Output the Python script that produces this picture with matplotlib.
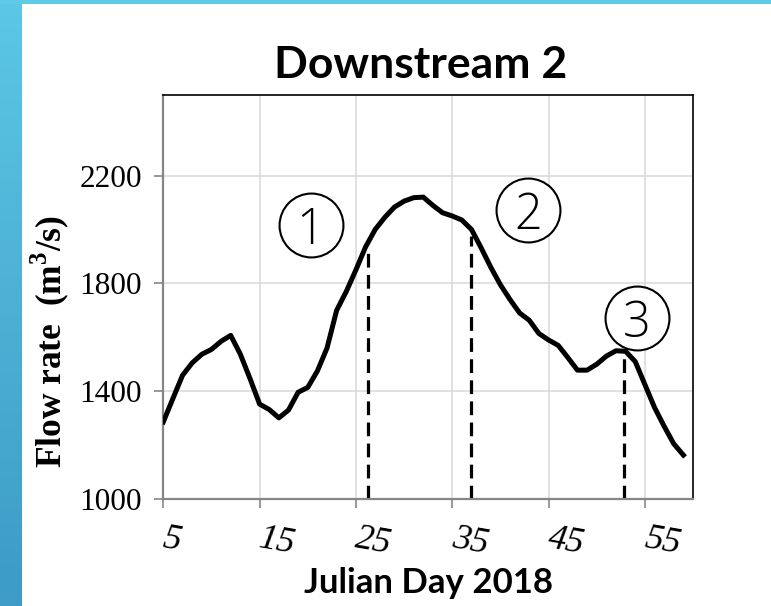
import numpy as np
import matplotlib

matplotlib.use("Agg")
import matplotlib.pyplot as plt  # noqa: E402
from matplotlib.colors import LinearSegmentedColormap  # noqa: E402

# daily flow at the Downstream 2 station
days = list(range(5, 60))
flow = [
    1286, 1373, 1459, 1505, 1537, 1555, 1585, 1607, 1537, 1447,
    1352, 1332, 1301, 1330, 1396, 1414, 1475, 1560, 1700, 1770,
    1850, 1935, 2000, 2045, 2083, 2105, 2118, 2120, 2089, 2062,
    2050, 2035, 2000, 1932, 1860, 1795, 1740, 1690, 1663, 1614,
    1590, 1570, 1525, 1478, 1478, 1500, 1530, 1550, 1548, 1510,
    1425, 1340, 1270, 1205, 1163,
]

# dashed markers splitting the hydrograph into periods
split_days = [26.3, 36.9, 52.8]
split_tops = [1922, 1975, 1548]

# circled period numbers
period_labels = ["1", "2", "3"]
period_x = [20.3, 42.9, 54.2]
period_y = [2017, 2073, 1670]

x_ticks = [5, 15, 25, 35, 45, 55]
y_ticks = [1000, 1400, 1800, 2200]

plt.rcParams["mathtext.fontset"] = "custom"
plt.rcParams["mathtext.bf"] = "Liberation Serif:bold"
plt.rcParams["mathtext.rm"] = "Liberation Serif"

W, H = 771, 606
fig = plt.figure(figsize=(W / 100, H / 100), dpi=100)
fig.patch.set_facecolor("white")

# slide decoration: blue bar on the left and a thin one across the top
bar = fig.add_axes([0, 0, 22 / W, 1])
grad = LinearSegmentedColormap.from_list("bar", ["#5cc7e6", "#3d9bc5"])
bar.imshow(np.linspace(0, 1, 256)[:, None], aspect="auto", cmap=grad,
           extent=[0, 1, 1, 0])
bar.set_axis_off()
top = fig.add_axes([0, 1 - 4 / H, 1, 4 / H])
top.set_facecolor("#5fcbe8")
top.set_xticks([])
top.set_yticks([])
for s in top.spines.values():
    s.set_visible(False)

left, right, ytop, ybot = 163.3, 693, 94.7, 499
ax = fig.add_axes([left / W, 1 - ybot / H, (right - left) / W, (ybot - ytop) / H])

ax.plot(days, flow, color="black", lw=3.6, solid_joinstyle="round", zorder=3)
ax.vlines(split_days, 1000, split_tops, colors="black", lw=2.3,
          linestyles=(0, (4.3, 2.3)), zorder=2)

for lab, px, py in zip(period_labels, period_x, period_y):
    ax.plot(px, py, marker="o", ms=46, mfc="white", mec="black", mew=1.5,
            zorder=2.5, clip_on=False)
    ax.text(px, py, lab, ha="center", va="center_baseline", fontsize=35,
            family="Open Sans", fontweight="light", zorder=5)

ax.set_xlim(5, 60)
ax.set_ylim(1000, 2500)
ax.set_xticks(x_ticks)
ax.set_yticks(y_ticks)
ax.grid(color="#d9d9d9", lw=1.1, zorder=0)
ax.set_axisbelow(True)

ax.set_xticklabels([str(v) for v in x_ticks], fontsize=26,
                   family="Liberation Serif", style="italic",
                   rotation=-10, rotation_mode="anchor", ha="left", va="center")
ax.set_yticklabels([str(v) for v in y_ticks], fontsize=22.5,
                   family="Liberation Serif")
ax.tick_params(axis="both", direction="out", length=6.5, width=1.2,
               color="#868686")
ax.tick_params(axis="x", pad=22)
ax.tick_params(axis="y", pad=9)

for side in ("left", "bottom"):
    ax.spines[side].set_color("#868686")
    ax.spines[side].set_linewidth(1.6)
for side in ("top", "right"):
    ax.spines[side].set_color("black")
    ax.spines[side].set_linewidth(1.2)

fig.text(421 / W, 1 - 78 / H, "Downstream 2", ha="center", va="baseline",
         fontsize=32, fontweight="bold", family="Lato")
fig.text(428 / W, 1 - 593 / H, "Julian Day 2018", ha="center", va="baseline",
         fontsize=25, fontweight="bold", family="Lato")
fig.text(50 / W, 1 - 342 / H, r"Flow rate  (m$^\mathbf{3}$/s)", ha="center",
         va="center", rotation=90, fontsize=25.5, fontweight="bold",
         family="Liberation Serif")

fig.savefig("out.png", dpi=100)
plt.close(fig)
